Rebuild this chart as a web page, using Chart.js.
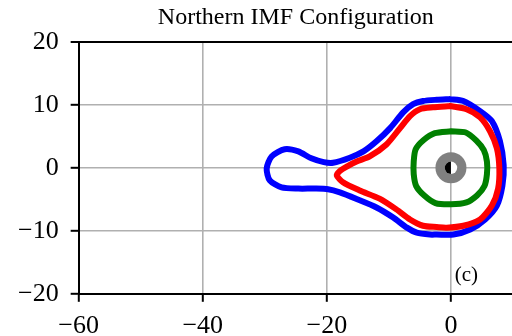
<!DOCTYPE html>
<html>
<head>
<meta charset="utf-8">
<script src="https://cdn.jsdelivr.net/npm/chart.js@4/dist/chart.umd.min.js"></script>
<style>
  html, body { margin: 0; padding: 0; background: #ffffff; overflow: hidden; }
  #wrap { width: 512px; height: 336px; overflow: hidden; }
</style>
</head>
<body>
<div id="wrap"><canvas id="c" width="520" height="360"></canvas></div>
<script>
// Boundary traces in the equatorial plane (X, Y in Earth radii)
const outerX = [-0.2, -2.3, -4.5, -6.1, -7.7, -9.8, -12.0, -14.1, -16.3, -19.0, -20.5, -22.5, -24.6, -26.8, -28.9, -29.7, -29.2, -27.3, -24.6, -21.9, -19.8, -17.9, -15.2, -12.0, -9.3, -7.1, -5.5, -3.4, -2.3, 0.4, 3.1, 5.5, 7.4, 8.3, 8.5, 7.9, 6.6, 4.7, 2.0, -0.2];
const outerY = [10.9, 10.8, 10.6, 10.1, 8.8, 6.3, 4.2, 2.6, 1.6, 0.8, 0.9, 1.5, 2.6, 2.95, 1.8, -0.1, -2.0, -3.1, -3.3, -3.3, -3.4, -3.9, -4.95, -6.3, -7.9, -9.5, -10.3, -10.6, -10.6, -10.6, -9.8, -8.2, -6.0, -2.8, 0.4, 4.2, 7.4, 9.0, 10.6, 10.9];

const middleX = [-0.2, -2.9, -5.0, -6.6, -8.2, -10.4, -13.1, -15.2, -16.8, -17.9, -18.4, -17.4, -14.7, -11.5, -8.8, -6.6, -4.5, -2.3, -0.7, 2.0, 4.7, 6.6, 7.6, 7.8, 7.4, 6.3, 4.7, 2.5, -0.2];
const middleY = [9.8, 9.6, 9.3, 8.2, 6.3, 3.7, 1.8, 1.0, 0.2, -0.5, -1.2, -2.3, -3.6, -4.9, -6.6, -8.2, -9.2, -9.4, -9.5, -9.2, -8.2, -6.0, -3.3, -0.1, 3.1, 5.8, 8.0, 9.3, 9.8];

const innerX = [0, 2.4, 4.1, 5.3, 5.8, 5.8, 5.4, 4.2, 2.5, 0, -2.5, -4.3, -5.6, -6.0, -6.0, -5.7, -4.4, -2.6, 0];
const innerY = [5.8, 5.6, 4.3, 2.8, 1.0, -1.0, -2.9, -4.4, -5.5, -5.8, -5.6, -4.4, -2.9, -1.0, 1.0, 2.9, 4.4, 5.5, 5.8];

const xTicks = [-60, -40, -20, 0];
const yTicks = [-20, -10, 0, 10, 20];
const xRange = [-60, 10];
const yRange = [-20, 20];

const earthRadius = 1.0;
const innerBoundaryRadius = 2.5;
const titleText = 'Northern IMF Configuration';
const panelLabel = '(c)';
const panelLabelAt = [0.6, -17.9];

const serif = '"Liberation Serif", "DejaVu Serif", serif';
const gridGray = '#b0b0b0';

function toPoints(xs, ys) {
  return xs.map((x, i) => ({ x: x, y: ys[i] }));
}

function traceDataset(xs, ys, color) {
  return {
    data: toPoints(xs, ys),
    showLine: true,
    borderColor: color,
    backgroundColor: color,
    borderWidth: 6,
    pointRadius: 0,
    pointHoverRadius: 0,
    tension: 0.25,
    borderJoinStyle: 'round',
    borderCapStyle: 'round',
    fill: false
  };
}

const minus = v => String(v).replace('-', '\u2212');

// Earth (day/night halves) inside the grey inner boundary, plus panel tag
const earthPlugin = {
  id: 'earth',
  afterDatasetsDraw(chart) {
    const xs = chart.scales.x, ys = chart.scales.y;
    const ctx = chart.ctx;
    const cx = xs.getPixelForValue(0), cy = ys.getPixelForValue(0);
    const rOuter = xs.getPixelForValue(innerBoundaryRadius) - cx;
    const rEarth = xs.getPixelForValue(earthRadius) - cx;
    ctx.save();
    ctx.beginPath();
    ctx.arc(cx, cy, rOuter, 0, Math.PI * 2);
    ctx.fillStyle = '#808080';
    ctx.fill();
    ctx.beginPath();
    ctx.arc(cx, cy, rEarth, 0, Math.PI * 2);
    ctx.fillStyle = '#ffffff';
    ctx.fill();
    ctx.beginPath();
    ctx.moveTo(cx, cy - rEarth);
    ctx.arc(cx, cy, rEarth, -Math.PI / 2, Math.PI / 2, true);
    ctx.closePath();
    ctx.fillStyle = '#000000';
    ctx.fill();

    ctx.font = '21px ' + serif;
    ctx.fillStyle = '#000000';
    ctx.textAlign = 'left';
    ctx.textBaseline = 'alphabetic';
    ctx.fillText(panelLabel, xs.getPixelForValue(panelLabelAt[0]), ys.getPixelForValue(panelLabelAt[1]));
    ctx.restore();
  }
};

new Chart(document.getElementById('c'), {
  type: 'scatter',
  data: {
    datasets: [
      traceDataset(innerX, innerY, '#008000'),
      traceDataset(middleX, middleY, '#ff0000'),
      traceDataset(outerX, outerY, '#0000ff')
    ]
  },
  options: {
    responsive: false,
    animation: false,
    events: [],
    layout: { padding: { left: 6, right: 7, top: 0, bottom: 9 } },
    plugins: {
      legend: { display: false },
      tooltip: { enabled: false },
      title: {
        display: true,
        text: titleText,
        fullSize: false,
        color: '#000000',
        font: { family: serif, size: 24, weight: 'normal' },
        padding: { top: 3, bottom: 10 }
      }
    },
    scales: {
      x: {
        type: 'linear',
        min: xRange[0],
        max: xRange[1],
        afterBuildTicks: axis => { axis.ticks = xTicks.map(v => ({ value: v })); },
        ticks: {
          color: '#000000',
          font: { family: serif, size: 26 },
          padding: 9,
          maxRotation: 0,
          callback: v => minus(v)
        },
        grid: {
          color: gridGray,
          lineWidth: 1.6,
          tickColor: '#000000',
          tickLength: 8,
          tickWidth: 2
        },
        border: { color: '#000000', width: 2 }
      },
      y: {
        type: 'linear',
        min: yRange[0],
        max: yRange[1],
        afterBuildTicks: axis => { axis.ticks = yTicks.map(v => ({ value: v })); },
        ticks: {
          color: '#000000',
          font: { family: serif, size: 26 },
          padding: 12,
          callback: v => minus(v)
        },
        grid: {
          color: c => (c.tick && c.tick.value === yRange[1]) ? '#000000' : gridGray,
          lineWidth: c => (c.tick && c.tick.value === yRange[1]) ? 2 : 1.6,
          tickColor: '#000000',
          tickLength: 8,
          tickWidth: 2
        },
        border: { color: '#000000', width: 2 }
      }
    }
  },
  plugins: [earthPlugin]
});
</script>
</body>
</html>
